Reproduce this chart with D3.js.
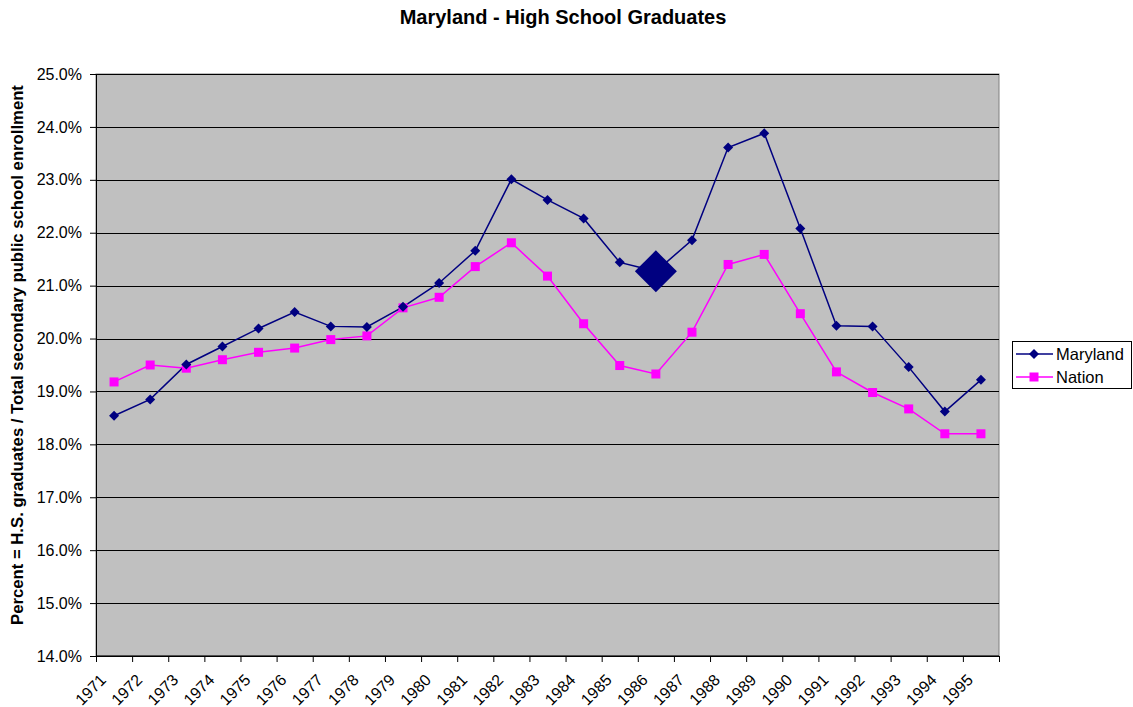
<!DOCTYPE html>
<html>
<head>
<meta charset="utf-8">
<script src="https://cdn.jsdelivr.net/npm/d3@7"></script>
<style>
  body { margin: 0; background: #fff; }
  text { font-family: "Liberation Sans", Arial, sans-serif; }
</style>
</head>
<body>
<div id="chart"></div>
<script>
const years = ["1971","1972","1973","1974","1975","1976","1977","1978","1979","1980","1981","1982","1983",
               "1984","1985","1986","1987","1988","1989","1990","1991","1992","1993","1994","1995"]
const maryland = [18.54, 18.85, 19.51, 19.85, 20.19, 20.50, 20.23, 20.22, 20.60, 21.05, 21.66, 23.01, 22.62,
                  22.27, 21.44, 21.27, 21.86, 23.61, 23.88, 22.08, 20.24, 20.23, 19.46, 18.62, 19.22]
const nation = [19.18, 19.50, 19.44, 19.60, 19.74, 19.82, 19.98, 20.05, 20.58, 20.78, 21.36, 21.81, 21.18,
                20.28, 19.49, 19.33, 20.12, 21.40, 21.59, 20.47, 19.37, 18.98, 18.67, 18.20, 18.20]
const yTicks = [14, 15, 16, 17, 18, 19, 20, 21, 22, 23, 24, 25]
const highlightYear = "1986"

const W = 1133, H = 707
const margin = { top: 74, right: 134, bottom: 51, left: 96 }
const width = W - margin.left - margin.right
const height = H - margin.top - margin.bottom

const svg = d3.select("#chart")
              .append("svg")
              .attr("width", W)
              .attr("height", H)

svg.append("text")
   .attr("x", 563)
   .attr("y", 24)
   .attr("text-anchor", "middle")
   .attr("font-size", 20)
   .attr("font-weight", "bold")
   .text("Maryland - High School Graduates")

svg.append("text")
   .attr("transform", "translate(23," + (margin.top + height / 2 - 10) + ") rotate(-90)")
   .attr("text-anchor", "middle")
   .attr("font-size", 16.7)
   .attr("font-weight", "bold")
   .text("Percent = H.S. graduates / Total secondary public school enrollment")

const g = svg.append("g")
             .attr("transform", "translate(" + margin.left + "," + margin.top + ")")

const x = d3.scaleBand().domain(years).range([0, width])
const y = d3.scaleLinear().domain([14, 25]).range([height, 0])

g.append("rect")
 .attr("width", width)
 .attr("height", height)
 .attr("fill", "#c0c0c0")
 .attr("stroke", "#808080")

g.selectAll(".grid")
 .data(yTicks)
 .join("line")
 .attr("x1", 0)
 .attr("x2", width)
 .attr("y1", d => Math.round(y(d)) + 0.5)
 .attr("y2", d => Math.round(y(d)) + 0.5)
 .attr("stroke", "#000")
 .attr("stroke-width", 1)

// y axis
const yAxis = g.append("g")
               .call(d3.axisLeft(y).tickValues(yTicks).tickSize(6).tickPadding(8)
                       .tickFormat(d => d.toFixed(1) + "%"))
yAxis.selectAll("text").attr("font-size", 16).attr("fill", "#000")
     .style("font-family", "Liberation Sans, Arial, sans-serif")
yAxis.select(".domain").attr("stroke", "#000")

// x axis, ticks between categories
const xAxis = g.append("g")
               .attr("transform", "translate(0," + height + ")")
xAxis.append("line")
     .attr("x1", 0).attr("x2", width)
     .attr("stroke", "#000")
xAxis.selectAll(".tk")
     .data(years.concat(["end"]))
     .join("line")
     .attr("x1", (d, i) => i * x.bandwidth() + 0.5)
     .attr("x2", (d, i) => i * x.bandwidth() + 0.5)
     .attr("y1", 0)
     .attr("y2", 6)
     .attr("stroke", "#000")
xAxis.selectAll(".lbl")
     .data(years)
     .join("text")
     .attr("transform", d => "translate(" + (x(d) + x.bandwidth() / 2 - 7) + ",25) rotate(-45)")
     .attr("text-anchor", "end")
     .attr("font-size", 16)
     .text(d => d)

const line = d3.line()
               .x((d, i) => x(years[i]) + x.bandwidth() / 2)
               .y(d => y(d))

g.append("path")
 .datum(nation)
 .attr("fill", "none")
 .attr("stroke", "#ff00ff")
 .attr("stroke-width", 1.5)
 .attr("d", line)

g.append("path")
 .datum(maryland)
 .attr("fill", "none")
 .attr("stroke", "#000080")
 .attr("stroke-width", 1.5)
 .attr("d", line)

g.selectAll(".sq")
 .data(nation)
 .join("rect")
 .attr("x", (d, i) => x(years[i]) + x.bandwidth() / 2 - 4.5)
 .attr("y", d => y(d) - 4.5)
 .attr("width", 9)
 .attr("height", 9)
 .attr("fill", "#ff00ff")

const diamond = r => "M0," + (-r) + "L" + r + ",0L0," + r + "L" + (-r) + ",0Z"

g.selectAll(".dm")
 .data(maryland)
 .join("path")
 .attr("transform", (d, i) => "translate(" + (x(years[i]) + x.bandwidth() / 2) + "," + y(d) + ")")
 .attr("d", (d, i) => diamond(years[i] === highlightYear ? 21 : 5))
 .attr("fill", "#000080")

// legend
const lg = svg.append("g").attr("transform", "translate(1012,341)")
lg.append("rect")
  .attr("x", 0.5).attr("y", 0.5)
  .attr("width", 119).attr("height", 47)
  .attr("fill", "#fff")
  .attr("stroke", "#000")

const items = [{ name: "Maryland", color: "#000080", mark: "d" }, { name: "Nation", color: "#ff00ff", mark: "s" }]
items.forEach((it, i) => {
    const cy = 13 + i * 23
    lg.append("line").attr("x1", 4).attr("x2", 41).attr("y1", cy).attr("y2", cy)
      .attr("stroke", it.color).attr("stroke-width", 1.5)
    if (it.mark === "d") {
        lg.append("path").attr("transform", "translate(22," + cy + ")").attr("d", diamond(5)).attr("fill", it.color)
    } else {
        lg.append("rect").attr("x", 17.5).attr("y", cy - 4.5).attr("width", 9).attr("height", 9).attr("fill", it.color)
    }
    lg.append("text").attr("x", 44).attr("y", cy + 6).attr("font-size", 16.5).text(it.name)
})
</script>
</body>
</html>
